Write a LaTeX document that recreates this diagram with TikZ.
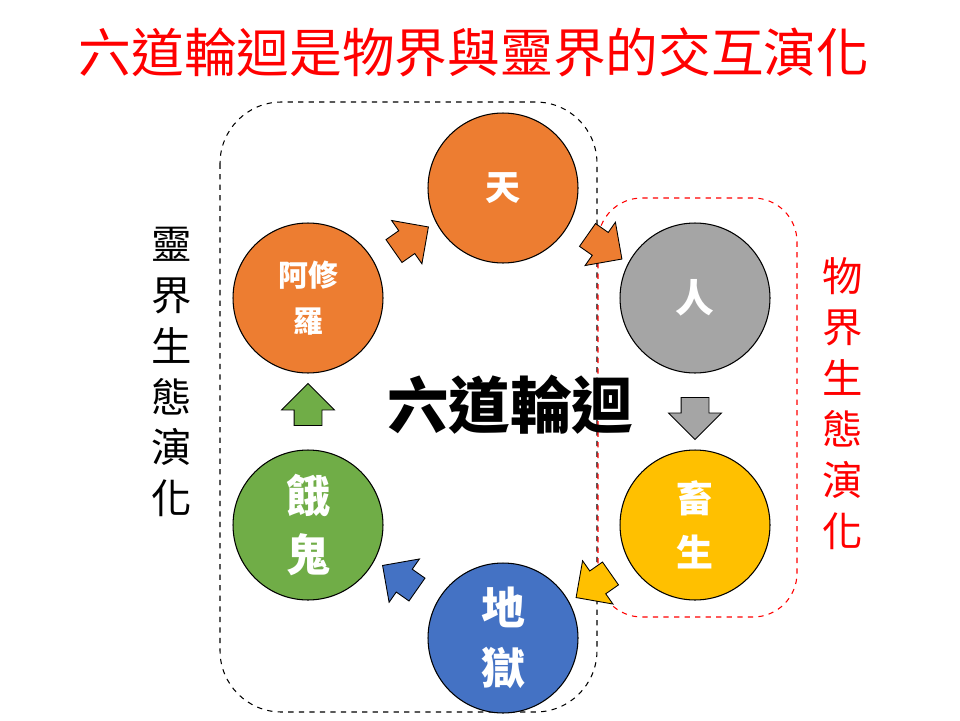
\documentclass[tikz,border=0pt]{standalone}
\usepackage{fontspec}
\newfontfamily\cjk{Noto Sans CJK TC}
\usepackage{xcolor}
\usepackage{tikz}
\usetikzlibrary{positioning, arrows.meta, calc, shapes.arrows}
\definecolor{realmorange}{HTML}{ED7D31}
\definecolor{realmgray}{HTML}{A5A5A5}
\definecolor{realmgold}{HTML}{FFC000}
\definecolor{realmblue}{HTML}{4472C4}
\definecolor{realmgreen}{HTML}{70AD47}
\definecolor{titlered}{HTML}{FF0000}

\begin{document}
\begin{tikzpicture}[x=0.02cm, y=-0.02cm,
    realm/.style={circle, draw=black, line width=0.6pt, minimum size=3cm,
                  text=white, font=\cjk\bfseries, align=center, inner sep=0pt},
    turn/.style={single arrow, draw=black, line width=0.5pt, minimum height=0.84cm,
                 single arrow head extend=0.25cm, single arrow head indent=0pt,
                 inner sep=0.27cm}]
  \useasboundingbox (0,0) rectangle (960,720);

  % title
  \node[text=titlered, font=\cjk\fontsize{30}{34}\selectfont] (title) at (474,52)
    {六道輪迴是物界與靈界的交互演化};

  % the two realms
  \draw[dashed, line width=0.6pt, rounded corners=35] (220,102) rectangle (597,712);
  \draw[dashed, red, line width=0.6pt, rounded corners=25] (598,198) rectangle (797,617);

  % six paths
  \node[realm, fill=realmorange, font=\cjk\bfseries\fontsize{20}{24}\selectfont] (tian) at (503,188) {天};
  \node[realm, fill=realmgray, font=\cjk\bfseries\fontsize{22}{26}\selectfont] (ren) at (695,298) {人};
  \node[realm, fill=realmgold, font=\cjk\bfseries\fontsize{21}{31}\selectfont] (chusheng) at (695,525) {畜\\生};
  \node[realm, fill=realmblue, font=\cjk\bfseries\fontsize{25}{34}\selectfont] (diyu) at (503,638) {地\\獄};
  \node[realm, fill=realmgreen, font=\cjk\bfseries\fontsize{25}{34}\selectfont] (egui) at (308,525) {餓\\鬼};
  \node[realm, fill=realmorange, font=\cjk\bfseries\fontsize{17}{26}\selectfont] (asura) at (308,298) {阿修\\羅};

  % turning of the wheel
  \node[turn, fill=realmorange, rotate=35] (a1) at ($(asura)!0.5!(tian)$) {};
  \node[turn, fill=realmorange, rotate=-35] (a2) at ($(tian)!0.5!(ren)$) {};
  \node[turn, fill=realmgray, rotate=-90] (a3) at ($(ren)!0.5!(chusheng)$) {};
  \node[turn, fill=realmgold, rotate=-145] (a4) at ($(chusheng)!0.5!(diyu)$) {};
  \node[turn, fill=realmblue, rotate=145] (a5) at ($(diyu)!0.5!(egui)$) {};
  \node[turn, fill=realmgreen, rotate=90] (a6) at ($(egui)!0.5!(asura)$) {};

  \node[font=\cjk\bfseries\fontsize{35}{40}\selectfont] (wheel) at (510,405) {六道輪迴};

  % side captions
  \node[align=center, font=\cjk\fontsize{23}{29}\selectfont] (spirit) at (172,372)
    {靈\\界\\生\\態\\演\\化};
  \node[align=center, text=titlered, font=\cjk\fontsize{23}{29}\selectfont] (matter) at (843,404)
    {物\\界\\生\\態\\演\\化};
\end{tikzpicture}
\end{document}
